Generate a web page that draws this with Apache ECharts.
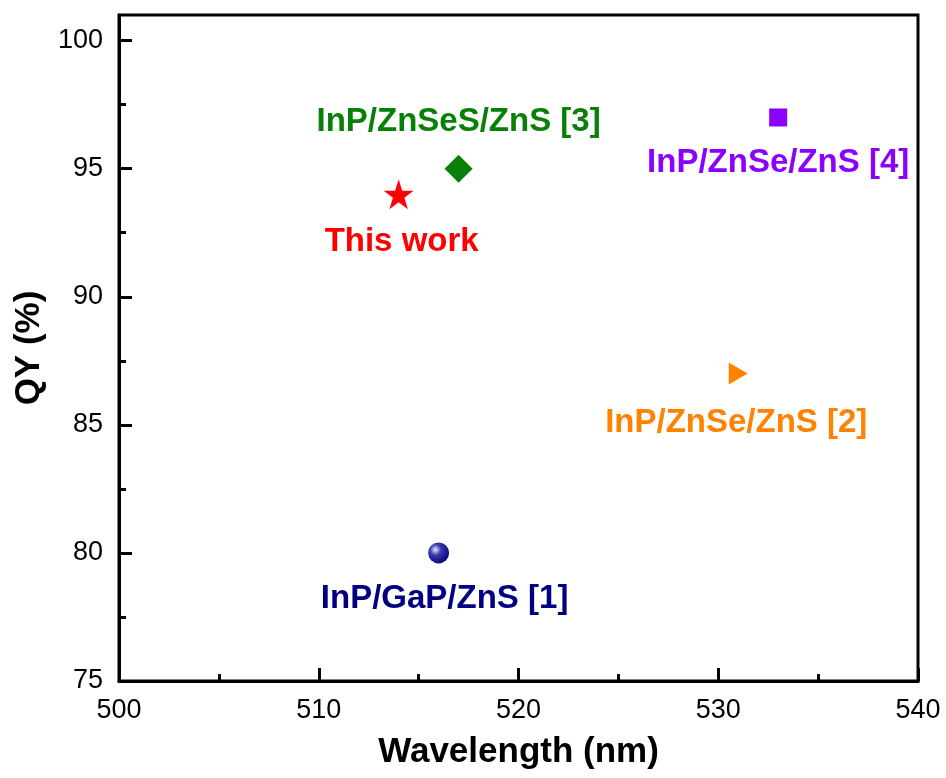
<!DOCTYPE html>
<html>
<head>
<meta charset="utf-8">
<script src="https://cdn.jsdelivr.net/npm/echarts@6/dist/echarts.min.js"></script>
<style>
  html, body { margin: 0; padding: 0; background: #fff; }
  #qyChart { width: 946px; height: 778px; }
</style>
</head>
<body>
<div id="qyChart"></div>
<script>
// data
var names = ['This work', 'InP/ZnSeS/ZnS [3]', 'InP/ZnSe/ZnS [4]', 'InP/ZnSe/ZnS [2]', 'InP/GaP/ZnS [1]']
var wavelength = [514, 517, 533, 531, 516]
var qy = [94, 95, 97, 87, 80]
var yMajorTicks = [75, 80, 85, 90, 95, 100]
var yMinorTicks = [77.5, 82.5, 87.5, 92.5, 97.5]

var colors = ['#ff0000', '#078007', '#8c00ff', '#ff8200', '#000080']
var symbols = [
  'path://M50,0 L61.8,36.2 L100,36.2 L69.1,58.8 L80.9,95.1 L50,72.7 L19.1,95.1 L30.9,58.8 L0,36.2 L38.2,36.2 Z',
  'diamond', 'rect', 'path://M0,0 L100,50 L0,100 Z', 'circle'
]
var sizes = [30, 28, 18, [19, 22], 21]
var labelOffsets = [[3, 48], [0, -47], [0, 45], [-2, 49], [6, 46]]

var font = '"Liberation Sans", Arial, sans-serif'

var chartsDom = document.getElementById('qyChart')
var myChart = echarts.init(chartsDom)

var series = names.map(function (n, i) {
  var color = colors[i]
  if (i === 4) {
    color = new echarts.graphic.RadialGradient(0.35, 0.35, 0.75, [
      { offset: 0, color: '#e8e8ff' },
      { offset: 0.35, color: '#3a3ab0' },
      { offset: 1, color: '#000070' }
    ])
  }
  return {
    name: n,
    type: 'scatter',
    data: [[wavelength[i], qy[i]]],
    symbol: symbols[i],
    symbolSize: sizes[i],
    itemStyle: { color: color, opacity: 1 },
    label: {
      show: true,
      position: 'inside',
      offset: labelOffsets[i],
      formatter: n,
      color: colors[i],
      fontFamily: font,
      fontWeight: 'bold',
      fontSize: 33
    },
    z: 5
  }
})

var option = {
  animation: false,
  textStyle: { fontFamily: font },
  grid: {
    left: 119,
    right: 28,
    top: 15,
    bottom: 97,
    show: true,
    borderColor: '#000',
    borderWidth: 3
  },
  xAxis: {
    type: 'value',
    min: 500,
    max: 540,
    interval: 10,
    name: 'Wavelength (nm)',
    nameLocation: 'middle',
    nameGap: 54,
    nameTextStyle: { fontSize: 35, fontWeight: 'bold', color: '#000', fontFamily: font },
    axisLine: { lineStyle: { color: '#000', width: 3 } },
    axisTick: { inside: true, length: 13, lineStyle: { color: '#000', width: 3 } },
    minorTick: { show: true, splitNumber: 2, length: 7, lineStyle: { color: '#000', width: 3 } },
    axisLabel: { fontSize: 27, color: '#000', margin: 16, fontFamily: font },
    splitLine: { show: false }
  },
  yAxis: [{
    type: 'value',
    min: 75,
    max: 101,
    name: 'QY (%)',
    nameLocation: 'middle',
    nameGap: 70,
    nameTextStyle: { fontSize: 35, fontWeight: 'bold', color: '#000', fontFamily: font },
    axisLine: { lineStyle: { color: '#000', width: 3 } },
    axisTick: { inside: true, length: 13, customValues: yMajorTicks, lineStyle: { color: '#000', width: 3 } },
    axisLabel: { fontSize: 27, color: '#000', margin: 16, customValues: yMajorTicks, fontFamily: font },
    splitLine: { show: false }
  }, {
    type: 'value',
    position: 'left',
    min: 75,
    max: 101,
    axisLine: { show: false },
    axisTick: { show: true, inside: true, length: 7, customValues: yMinorTicks, lineStyle: { color: '#000', width: 3 } },
    axisLabel: { show: false },
    splitLine: { show: false }
  }],
  series: series
}

myChart.setOption(option)
</script>
</body>
</html>
